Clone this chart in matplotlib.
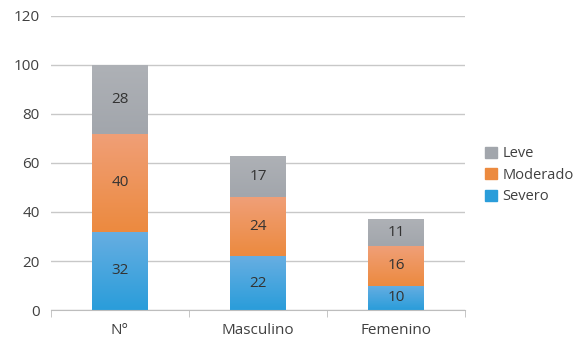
import numpy as np
import matplotlib.pyplot as plt
from matplotlib.colors import LinearSegmentedColormap
from matplotlib.patches import Patch

# Datos
categorias = ['N°', 'Masculino', 'Femenino']
severo = [32, 22, 10]
moderado = [40, 24, 16]
leve = [28, 17, 11]

# Colores (arriba, abajo) para el degradado de cada serie
col_severo = ('#67AEE2', '#2A9DDA')
col_moderado = ('#F09F77', '#EC8A3F')
col_leve = ('#AEB1B6', '#A2A6AC')

plt.rcParams['font.family'] = ['Open Sans', 'DejaVu Sans']

fig = plt.figure(figsize=(5.79, 3.37), dpi=100)
ax = fig.add_axes([0.088, 0.080, 0.715, 0.873])

x = np.arange(len(categorias))
ancho = 0.4


def barras_degradado(valores, base, colores, etiqueta):
    bars = ax.bar(x, valores, ancho, bottom=base, color=colores[1],
                  label=etiqueta, zorder=2)
    cmap = LinearSegmentedColormap.from_list('g', [colores[1], colores[0]])
    grad = np.linspace(0, 1, 100).reshape(-1, 1)
    for b in bars:
        x0, y0 = b.get_x(), b.get_y()
        im = ax.imshow(grad, cmap=cmap, origin='lower', aspect='auto',
                       extent=(x0, x0 + b.get_width(), y0, y0 + b.get_height()),
                       zorder=2.5)
        im.set_clip_path(b)
    for xi, v, bo in zip(x, valores, base):
        ax.text(xi, bo + v / 2, str(v), ha='center', va='center',
                fontsize=11, color='#333333', zorder=3)
    return bars


base0 = [0, 0, 0]
base1 = severo
base2 = [a + b for a, b in zip(severo, moderado)]
barras_degradado(severo, base0, col_severo, 'Severo')
barras_degradado(moderado, base1, col_moderado, 'Moderado')
barras_degradado(leve, base2, col_leve, 'Leve')

ax.set_xlim(-0.5, 2.5)
ax.set_ylim(0, 120)
ax.set_yticks(range(0, 121, 20))
ax.yaxis.grid(True, color='#C8C8C8', linewidth=1)
ax.set_axisbelow(True)

ax.set_xticks(x)
ax.set_xticklabels(categorias)
ax.set_xticks([-0.5, 0.5, 1.5, 2.5], minor=True)
ax.tick_params(axis='x', which='major', length=0, pad=9, labelsize=11,
               labelcolor='#404040')
ax.tick_params(axis='x', which='minor', length=5, color='#BDBDBD')
ax.tick_params(axis='y', length=0, labelsize=11, labelcolor='#404040', pad=8)

for s in ['top', 'right', 'left']:
    ax.spines[s].set_visible(False)
ax.spines['bottom'].set_color('#BDBDBD')

handles = [Patch(color=col_leve[1], label='Leve'),
           Patch(color=col_moderado[1], label='Moderado'),
           Patch(color=col_severo[1], label='Severo')]
fig.legend(handles=handles, loc='center left', bbox_to_anchor=(0.815, 0.48),
           frameon=False, fontsize=10.5, handlelength=0.8, handleheight=0.8,
           handletextpad=0.4, labelspacing=0.45, labelcolor='#404040')

fig.savefig('out.png', dpi=100)
